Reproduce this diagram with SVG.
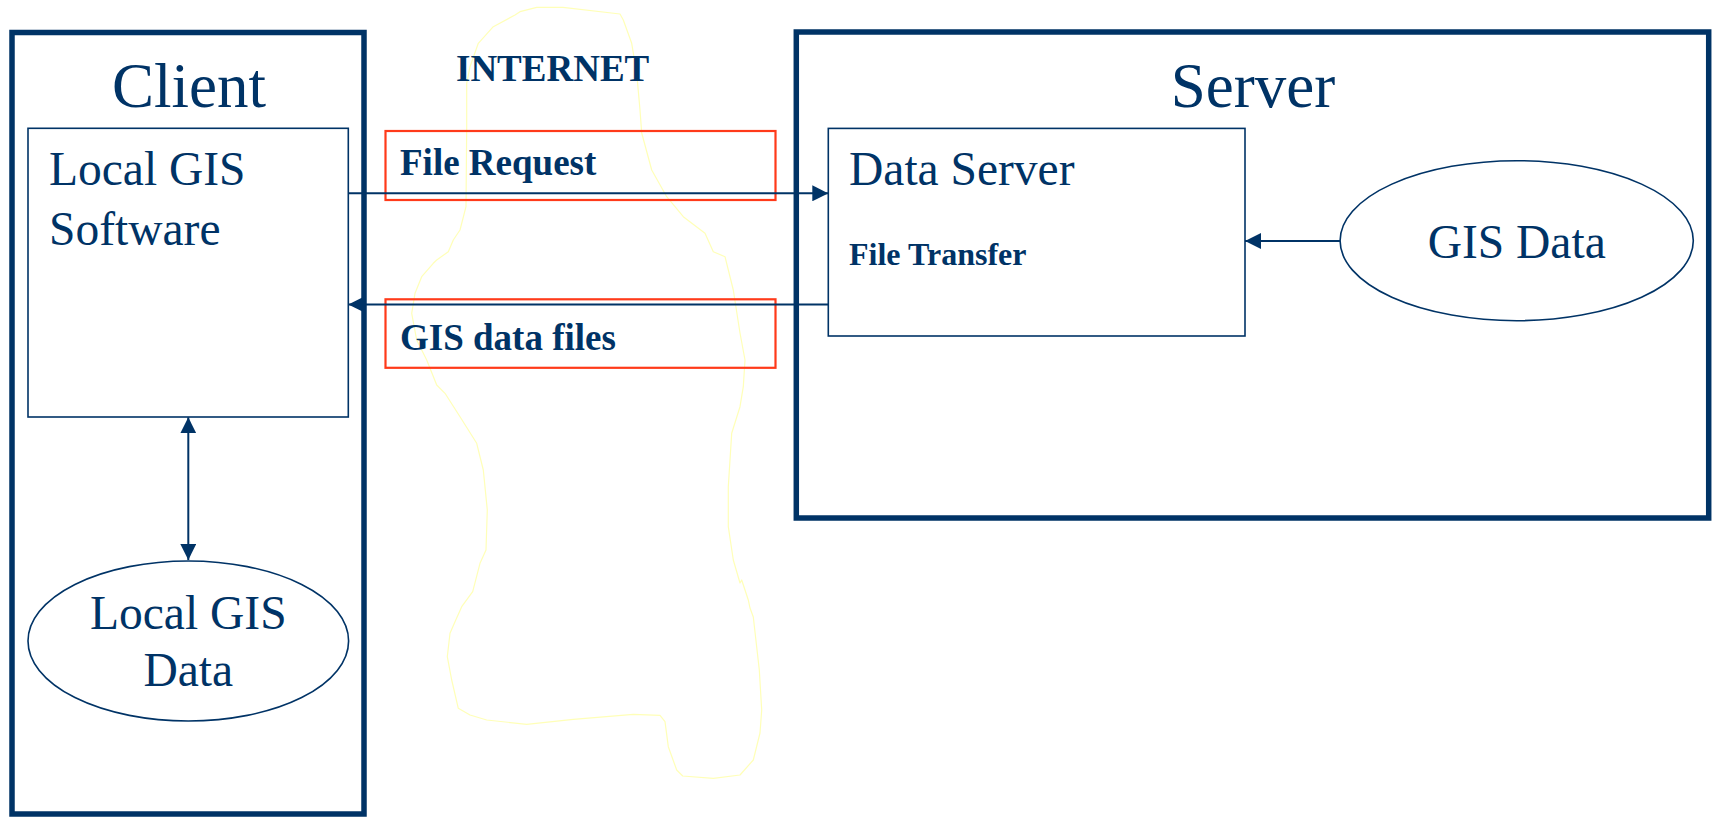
<svg xmlns="http://www.w3.org/2000/svg" width="1712" height="817" viewBox="0 0 1712 817">
  <style>
    .frame { fill: none; stroke: #003366; stroke-width: 5.5; }
    .box { fill: none; stroke: #003366; stroke-width: 1.6; }
    .label-box { fill: none; stroke: #FF3A1A; stroke-width: 2.2; }
    .cloud { fill: none; stroke: #FFFFB8; stroke-width: 1.2; stroke-linejoin: round; }
    .link { fill: none; stroke: #003366; stroke-width: 2; }
    .t { font-family: "Liberation Serif", "Times New Roman", serif; fill: #003366; }
    .big { font-size: 63px; }
    .mid { font-size: 47.5px; }
    .bold { font-weight: bold; font-size: 37px; }
    .small-bold { font-weight: bold; font-size: 32px; }
  </style>
  <defs>
    <marker id="arrow" viewBox="0 0 16 16" refX="16" refY="8" markerWidth="16" markerHeight="16" markerUnits="userSpaceOnUse" orient="auto-start-reverse">
      <path d="M0,0 L16,8 L0,16 Z" fill="#003366"/>
    </marker>
  </defs>

  <rect width="1712" height="817" fill="#FFFFFF"/>

  <!-- Internet cloud outline -->
  <g id="internet">
    <path class="cloud" d="M536.7,7.3 L563,7.3 L620,14 L623.3,20 L631.7,43.3 L636.7,73.3 L640,110 L641.7,133 L651.7,170 L666.7,196.7 L683.3,216.7 L705,233.3 L713.3,251.7 L725,256.7 L733.3,290 L740,333 L745,360 L743.3,386.7 L740,406.7 L731.7,433.3 L728.3,486.7 L728.3,526.7 L733.3,560 L740,583 L741.7,580 L748.3,600 L750,608 L753.3,617 L759.3,670 L761.7,710 L760,733 L753.3,760 L740,775 L713.3,778.3 L682.7,776 L676.7,770 L668.3,746.7 L665,721.7 L660,715.3 L633.3,714.3 L573.3,719.3 L526.7,724.3 L486.7,720 L470,715 L458.3,708.3 L451.7,680 L447.3,656.7 L450,633.3 L455,621.7 L461.7,606.7 L472.7,591.7 L480,563.3 L486,550 L487.3,510 L483.3,470 L476.7,443.3 L460,416.7 L445,393.3 L436.7,385 L426.7,360 L416.7,340 L411.7,313.3 L415,293.3 L421.7,276.7 L433.3,263.3 L436.7,260 L448.3,251.7 L453.3,240 L460,230 L466,206.7 L466.7,128 L466.7,83.3 L470,66.7 L478.3,43.3 L493.3,26.7 L515,15 L520,11.7 Z"/>
    <text class="t bold" x="456" y="81">INTERNET</text>
  </g>

  <!-- Client side -->
  <g id="client">
    <rect class="frame" x="12" y="32.5" width="352" height="781.5"/>
    <text class="t big" x="189" y="107" text-anchor="middle">Client</text>
  </g>

  <g id="local-gis-software">
    <rect class="box" x="28" y="128.3" width="320.3" height="288.7"/>
    <text class="t mid" x="49" y="185">Local GIS</text>
    <text class="t mid" x="49" y="245">Software</text>
  </g>

  <g id="local-gis-data">
    <ellipse class="box" cx="188.3" cy="641" rx="160.3" ry="80"/>
    <text class="t mid" x="188.3" y="629" text-anchor="middle">Local GIS</text>
    <text class="t mid" x="188.3" y="686" text-anchor="middle">Data</text>
  </g>

  <!-- Server side -->
  <g id="server">
    <rect class="frame" x="796.3" y="32" width="912.4" height="486"/>
    <text class="t big" x="1253" y="107" text-anchor="middle">Server</text>
  </g>

  <g id="data-server">
    <rect class="box" x="828.3" y="128.4" width="416.7" height="207.6"/>
    <text class="t mid" x="849" y="185">Data Server</text>
    <text class="t small-bold" x="849" y="265">File Transfer</text>
  </g>

  <g id="gis-data">
    <ellipse class="box" cx="1516.7" cy="240.7" rx="176.6" ry="80"/>
    <text class="t mid" x="1516.7" y="258" text-anchor="middle">GIS Data</text>
  </g>

  <!-- Message labels -->
  <g id="file-request">
    <rect class="label-box" x="385.5" y="131" width="390" height="69"/>
    <text class="t bold" x="400" y="175">File Request</text>
  </g>

  <g id="gis-data-files">
    <rect class="label-box" x="385.5" y="299.3" width="390" height="68.5"/>
    <text class="t bold" x="400" y="350">GIS data files</text>
  </g>

  <!-- Connectors -->
  <g id="connectors">
    <line class="link" x1="348.3" y1="193.3" x2="828.3" y2="193.3" marker-end="url(#arrow)"/>
    <line class="link" x1="828.3" y1="304.5" x2="348.3" y2="304.5" marker-end="url(#arrow)"/>
    <line class="link" x1="1340" y1="241" x2="1245" y2="241" marker-end="url(#arrow)"/>
    <line class="link" x1="188.3" y1="417.3" x2="188.3" y2="560" marker-start="url(#arrow)" marker-end="url(#arrow)"/>
  </g>
</svg>
